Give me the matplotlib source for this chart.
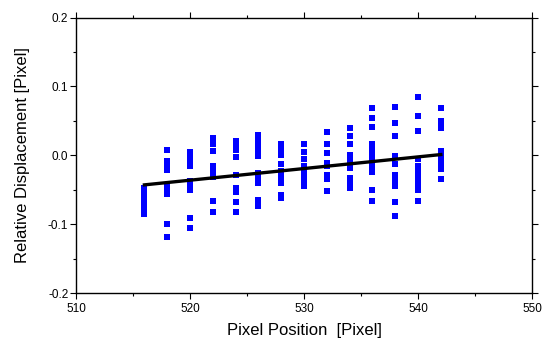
import numpy as np
import matplotlib.pyplot as plt
from matplotlib.ticker import MultipleLocator

plt.rcParams['font.family'] = ['Liberation Sans', 'DejaVu Sans']

# pixel positions (columns) and the displacements read for each column
positions = [516, 518, 520, 522, 524, 526, 528, 530, 532, 534, 536, 538, 540, 542]
displacements = [
    [-0.048, -0.055, -0.062, -0.068, -0.075, -0.080, -0.086],
    [0.008, -0.008, -0.015, -0.022, -0.045, -0.050, -0.056, -0.100, -0.119],
    [0.005, -0.002, -0.008, -0.015, -0.038, -0.044, -0.050, -0.091, -0.106],
    [0.025, 0.016, 0.006, -0.016, -0.024, -0.031, -0.067, -0.082],
    [0.020, 0.015, 0.008, -0.002, -0.028, -0.047, -0.053, -0.068, -0.082],
    [0.030, 0.025, 0.018, 0.012, 0.005, -0.001, -0.026, -0.033, -0.040, -0.065, -0.074],
    [0.016, 0.011, 0.005, 0.000, -0.013, -0.023, -0.032, -0.040, -0.057, -0.062],
    [0.017, 0.005, -0.006, -0.016, -0.023, -0.031, -0.038, -0.045],
    [0.034, 0.017, 0.003, -0.011, -0.016, -0.028, -0.035, -0.052],
    [0.040, 0.028, 0.016, 0.001, -0.006, -0.012, -0.018, -0.033, -0.040, -0.047],
    [0.068, 0.054, 0.041, 0.016, 0.010, 0.003, -0.004, -0.011, -0.018, -0.025, -0.050, -0.067],
    [0.070, 0.047, 0.028, -0.001, -0.013, -0.028, -0.036, -0.045, -0.068, -0.088],
    [0.085, 0.057, 0.035, -0.006, -0.016, -0.024, -0.031, -0.038, -0.045, -0.050, -0.066],
    [0.068, 0.050, 0.045, 0.039, 0.006, 0.000, -0.006, -0.013, -0.020, -0.035],
]

# linear fit line endpoints
fit_x = [516, 542]
fit_y = [-0.043, 0.001]

xs = []
ys = []
for p, col in zip(positions, displacements):
    xs += [p] * len(col)
    ys += col

fig = plt.figure(figsize=(5.44, 3.4), dpi=100)
ax = fig.add_axes([76/544, 1 - 293/340, (532 - 76)/544, (293 - 17.5)/340])

ax.plot(xs, ys, 's', color='#0000ff', markersize=4.5, markeredgewidth=0)
ax.plot(fit_x, fit_y, '-', color='black', linewidth=2.4)

ax.set_xlim(510, 550)
ax.set_ylim(-0.2, 0.2)
ax.xaxis.set_major_locator(MultipleLocator(10))
ax.xaxis.set_minor_locator(MultipleLocator(5))
ax.yaxis.set_major_locator(MultipleLocator(0.1))
ax.yaxis.set_minor_locator(MultipleLocator(0.05))
ax.set_yticklabels(['%.1f' % v for v in ax.get_yticks()])
ax.tick_params(which='major', direction='out', length=4, width=0.8, labelsize=8.5, pad=1.5)
ax.tick_params(axis='x', which='major', pad=3)
ax.tick_params(which='minor', direction='out', length=2.5, width=0.8)
ax.tick_params(which='both', top=True, right=True)
ax.tick_params(axis='both', which='both', labeltop=False, labelright=False)
for s in ax.spines.values():
    s.set_linewidth(1.0)

ax.set_xlabel('Pixel Position  [Pixel]', fontsize=12, labelpad=6)
ax.set_ylabel('Relative Displacement [Pixel]', fontsize=12, labelpad=13)

fig.savefig('out.png', dpi=100)
